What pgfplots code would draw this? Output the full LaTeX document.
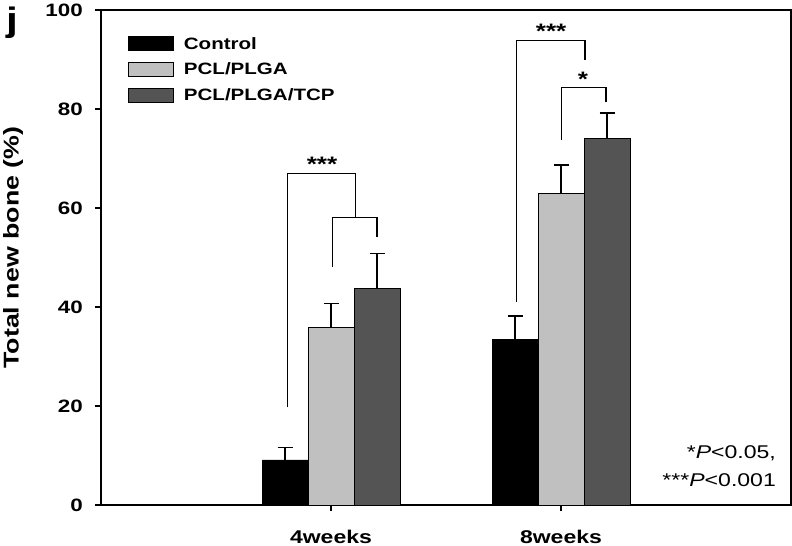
\documentclass[border=0pt]{standalone}
\usepackage{fontspec}
\setmainfont{Liberation Sans}[FakeStretch=1.25]
\usepackage{pgfplots}
\pgfplotsset{compat=1.18}
\usetikzlibrary{calc}

\definecolor{lightbar}{HTML}{C0C0C0}
\definecolor{darkbar}{HTML}{545454}

\pgfplotsset{legimg/.style={legend image code/.code={\draw[##1,line width=0.8bp] (0bp,-7bp) rectangle (45bp,7bp);}}}

\begin{document}
\begin{tikzpicture}
\begin{axis}[
  scale only axis, width=690bp, height=495bp,
  xmin=0, xmax=3, ymin=0, ymax=100,
  ybar, bar width=0.2,
  xtick={1,2}, xticklabels={4weeks,8weeks},
  ytick={0,20,...,100},
  tick align=outside, major tick length=6bp,
  xtick pos=bottom, ytick pos=left,
  axis line style={line width=1.4bp},
  tick style={line width=1.2bp, black},
  /pgf/number format/assume math mode=true,
  yticklabel style={font=\bfseries\fontsize{18}{18}\selectfont, inner sep=0pt, anchor=east, xshift=-12bp},
  xticklabel style={font=\bfseries\fontsize{18.5}{18.5}\selectfont, inner sep=0pt, anchor=base, yshift=-32bp},
  ylabel={Total new bone (\%)},
  ylabel style={font=\bfseries\fontsize{21.5}{22}\selectfont, at={(axis description cs:-0.1275,0.52)}, anchor=center},
  legend style={at={(axis description cs:0.039,0.947)}, anchor=north west, draw=none, fill=none,
    inner sep=0pt, row sep=11bp, font=\bfseries\fontsize{16.5}{16.5}\selectfont,
    nodes={inner sep=0pt}, column sep=10bp},
  legend cell align=left,
  error bars/y dir=plus, error bars/y explicit,
  error bars/error mark=|,
  error bars/error mark options={mark size=7.5bp, line width=1.2bp, black},
  error bars/error bar style={line width=1.2bp, black},
]
\addplot[legimg, fill=black, draw=black, line width=0.8bp, bar shift=-0.2]
  coordinates {(1,9.1) +- (0,2.5) (2,33.4) +- (0,4.8)};
\addlegendentry{Control}
\addplot[legimg, fill=lightbar, draw=black, line width=0.8bp, bar shift=0]
  coordinates {(1,35.9) +- (0,4.8) (2,63.0) +- (0,5.7)};
\addlegendentry{PCL/PLGA}
\addplot[legimg, fill=darkbar, draw=black, line width=0.8bp, bar shift=0.2]
  coordinates {(1,43.8) +- (0,7.0) (2,74.1) +- (0,5.1)};
\addlegendentry{PCL/PLGA/TCP}

% significance brackets
\draw[line width=1.2bp] (axis cs:0.812,19.7) |- (axis cs:1.105,67.0) -- (axis cs:1.105,58.0);
\draw[line width=1.2bp] (axis cs:1.005,48.1) |- (axis cs:1.2,58.0) -- (axis cs:1.2,54.1);
\draw[line width=1.2bp] (axis cs:1.807,41.1) |- (axis cs:2.104,93.8) -- (axis cs:2.104,89.9);
\draw[line width=1.2bp] (axis cs:2.003,73.7) |- (axis cs:2.196,84.4) -- (axis cs:2.196,81.5);
\node[anchor=base, inner sep=0pt, font=\bfseries\fontsize{21}{21}\selectfont] at (axis cs:0.961,67.3) {***};
\node[anchor=base, inner sep=0pt, font=\bfseries\fontsize{21}{21}\selectfont] at (axis cs:1.957,94.2) {***};
\node[anchor=base, inner sep=0pt, font=\bfseries\fontsize{21}{21}\selectfont] at (axis cs:2.096,84.5) {*};

\node[anchor=base east, inner sep=0pt, font=\fontsize{18.5}{18.5}\selectfont] at (axis cs:2.935,9.43) {*\textit{P}<0.05,};
\node[anchor=base east, inner sep=0pt, font=\fontsize{18.5}{18.5}\selectfont] at (axis cs:2.935,3.70) {***\textit{P}<0.001};
\end{axis}
\node[anchor=base, inner sep=0pt, font=\bfseries\fontsize{34}{34}\selectfont] at ($(current axis.north west)+(-89bp,-22bp)$) {j};
\pgfresetboundingbox
\path[use as bounding box] ($(current axis.south west)+(-101bp,-41bp)$) rectangle ($(current axis.north east)+(1bp,10bp)$);
\end{tikzpicture}
\end{document}
